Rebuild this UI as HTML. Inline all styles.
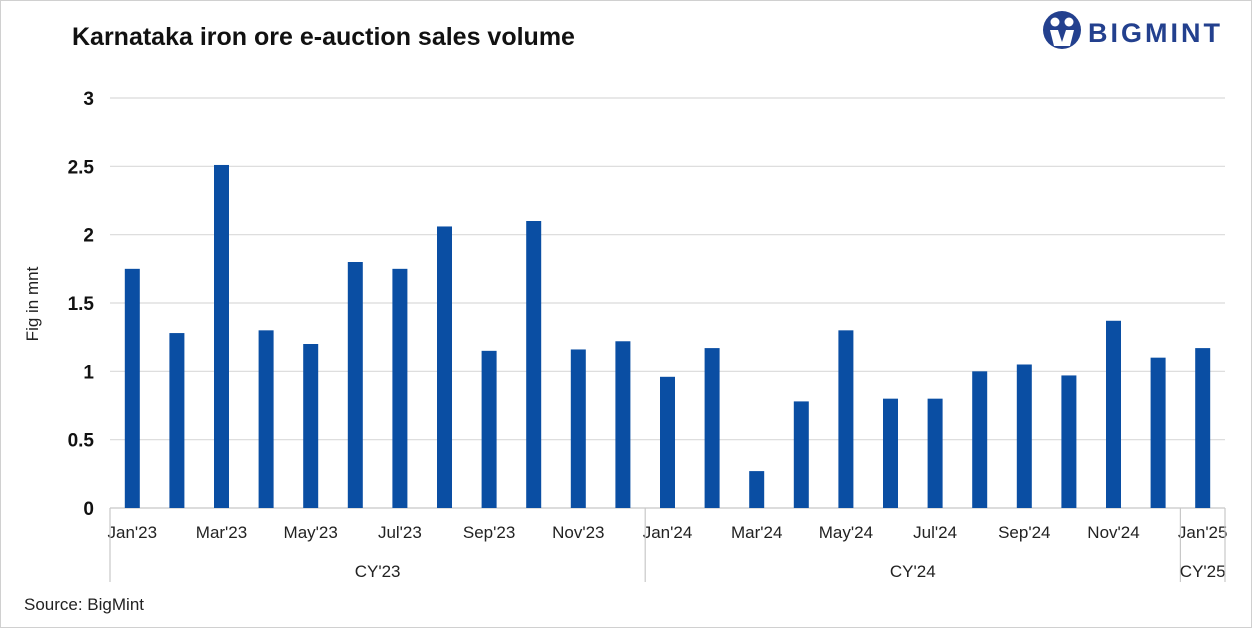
<!DOCTYPE html>
<html><head><meta charset="utf-8"><style>
body{margin:0;background:#fff;}
svg text{font-family:"Liberation Sans",Arial,sans-serif;}
</style></head><body>
<svg width="1252" height="628" viewBox="0 0 1252 628" xmlns="http://www.w3.org/2000/svg">
<rect x="0.5" y="0.5" width="1251" height="627" fill="#fff" stroke="#d0d0d0"/>
<text x="72" y="45" font-size="25" font-weight="bold" fill="#111">Karnataka iron ore e-auction sales volume</text>
<g>
<circle cx="1062" cy="30" r="19" fill="#23408e"/>
<circle cx="1055" cy="22" r="4.5" fill="#fff"/><circle cx="1069" cy="22" r="4.5" fill="#fff"/>
<path d="M1050 30 L1058 30 L1062 42 L1066 30 L1074 30 L1070 46 L1054 46 Z" fill="#fff"/>
<text x="1088" y="42" font-size="27" font-weight="bold" fill="#23408e" letter-spacing="3">BIGMINT</text>
</g>
<text transform="translate(38,304) rotate(-90)" text-anchor="middle" font-size="17" fill="#222">Fig in mnt</text>
<g id="grid"></g><g id="bars"></g><g id="xaxis"></g>
<text x="24" y="610" font-size="17" fill="#222">Source: BigMint</text>
</svg>
<script>
const categories=["Jan'23","Feb'23","Mar'23","Apr'23","May'23","Jun'23","Jul'23","Aug'23","Sep'23","Oct'23","Nov'23","Dec'23","Jan'24","Feb'24","Mar'24","Apr'24","May'24","Jun'24","Jul'24","Aug'24","Sep'24","Oct'24","Nov'24","Dec'24","Jan'25"];
const values=[1.75,1.28,2.51,1.30,1.20,1.80,1.75,2.06,1.15,2.10,1.16,1.22,0.96,1.17,0.27,0.78,1.30,0.80,0.80,1.00,1.05,0.97,1.37,1.10,1.17];
const yTicks=[0,0.5,1,1.5,2,2.5,3];
const groups=["CY'23","CY'24","CY'25"];
const groupSizes=[12,12,1];
const NS="http://www.w3.org/2000/svg";
const X0=110,X1=1225,Y0=508,Y1=98,YMAX=3;
const bw=(X1-X0)/categories.length;
const y=v=>Y0-(v/YMAX)*(Y0-Y1);
const xc=i=>X0+bw*(i+0.5);
function mk(tag,attrs,parent){const e=document.createElementNS(NS,tag);for(const k in attrs)e.setAttribute(k,attrs[k]);parent.appendChild(e);return e;}
const grid=document.getElementById('grid'),bars=document.getElementById('bars'),xa=document.getElementById('xaxis');
yTicks.forEach(t=>{
 const l=mk('line',{x1:X0,x2:X1,y1:y(t),y2:y(t),stroke:t===0?'#c8c8c8':'#d9d9d9','stroke-width':1.2},grid);
 
 
 const tx=mk('text',{x:94,y:y(t)+7,'text-anchor':'end','font-size':19,'font-weight':'bold',fill:'#111'},grid);
 tx.textContent=String(t);
 
 
});
values.forEach((v,i)=>{
 const r=mk('rect',{x:xc(i)-7.5,y:y(v),width:15,height:Y0-y(v),fill:'#0a4ea3'},bars);
 
 
});
categories.forEach((c,i)=>{
 if(i%2)return;
 const t=mk('text',{x:xc(i),y:538,'text-anchor':'middle','font-size':17,fill:'#222'},xa);
 t.textContent=c;
 
 
});
let start=0;
groups.forEach((g,gi)=>{
 const xs=X0+start*bw,xe=X0+(start+groupSizes[gi])*bw;
 const l=mk('line',{x1:xs,x2:xs,y1:Y0,y2:582,stroke:'#c8c8c8','stroke-width':1.2},xa);
 
 
 const t=mk('text',{x:(xs+xe)/2,y:577,'text-anchor':'middle','font-size':17,fill:'#222'},xa);
 t.textContent=g;
 
 
 start+=groupSizes[gi];
});
const le=mk('line',{x1:X1,x2:X1,y1:Y0,y2:582,stroke:'#c8c8c8','stroke-width':1.2},xa);


</script>
</body></html>
